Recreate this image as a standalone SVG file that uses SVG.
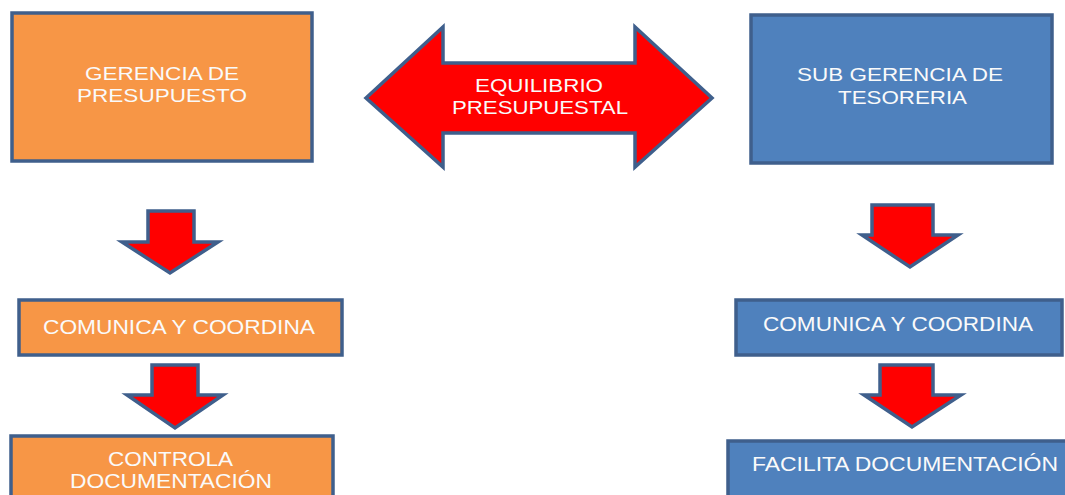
<svg xmlns="http://www.w3.org/2000/svg" width="1065" height="495" viewBox="0 0 1065 495">
<style>
.box{stroke:#3F5F8C;stroke-width:3.5}
.or{fill:#F79646}
.bl{fill:#4F81BD}
.arr{fill:#FF0000;stroke:#3F5F8C;stroke-width:3.5;stroke-linejoin:miter}
text{font-family:"Liberation Sans",Arial,sans-serif;fill:#FAFAFA;font-size:19px}
.big{font-size:20.5px}
</style>
<rect width="1065" height="495" fill="#FFFFFF"/>
<g id="gerencia-presupuesto">
<rect class="box or" x="12" y="13" width="300" height="148"/>
<text x="85" y="80" textLength="154" lengthAdjust="spacingAndGlyphs">GERENCIA DE</text>
<text x="77" y="102" textLength="170" lengthAdjust="spacingAndGlyphs">PRESUPUESTO</text>
</g>
<g id="equilibrio">
<polygon class="arr" points="366,98 443,27 443,63 635,63 635,27 712,98 635,167 635,133 443,133 443,167"/>
<text x="475" y="92" textLength="128" lengthAdjust="spacingAndGlyphs">EQUILIBRIO</text>
<text x="452" y="114" textLength="176" lengthAdjust="spacingAndGlyphs">PRESUPUESTAL</text>
</g>
<g id="sub-gerencia-tesoreria">
<rect class="box bl" x="751" y="15" width="301" height="148"/>
<text x="797" y="81" textLength="206" lengthAdjust="spacingAndGlyphs">SUB GERENCIA DE</text>
<text x="838" y="104" textLength="129" lengthAdjust="spacingAndGlyphs">TESORERIA</text>
</g>
<g id="connectors">
<polygon class="arr" points="148,211 194,211 194,242 218,242 170,273 122,242 148,242"/>
<polygon class="arr" points="152,365 198,365 198,395 223,395 175,428 127,395 152,395"/>
<polygon class="arr" points="872,205 933,205 933,235 958,235 910,267 862,235 872,235"/>
<polygon class="arr" points="880,365 933,365 933,395 961,395 912,427 864,395 880,395"/>
</g>
<g id="comunica-izq">
<rect class="box or" x="19" y="300" width="323" height="55"/>
<text class="big" x="43" y="334" textLength="272" lengthAdjust="spacingAndGlyphs">COMUNICA Y COORDINA</text>
</g>
<g id="controla-documentacion">
<rect class="box or" x="11" y="436" width="322" height="70"/>
<text class="big" x="108" y="466" textLength="125" lengthAdjust="spacingAndGlyphs">CONTROLA</text>
<text class="big" x="70" y="488" textLength="202" lengthAdjust="spacingAndGlyphs">DOCUMENTACIÓN</text>
</g>
<g id="comunica-der">
<rect class="box bl" x="736" y="300" width="326" height="55"/>
<text class="big" x="763" y="331" textLength="270" lengthAdjust="spacingAndGlyphs">COMUNICA Y COORDINA</text>
</g>
<g id="facilita-documentacion">
<rect class="box bl" x="728" y="441" width="345" height="70"/>
<text class="big" x="752" y="471" textLength="306" lengthAdjust="spacingAndGlyphs">FACILITA DOCUMENTACIÓN</text>
</g>
</svg>
